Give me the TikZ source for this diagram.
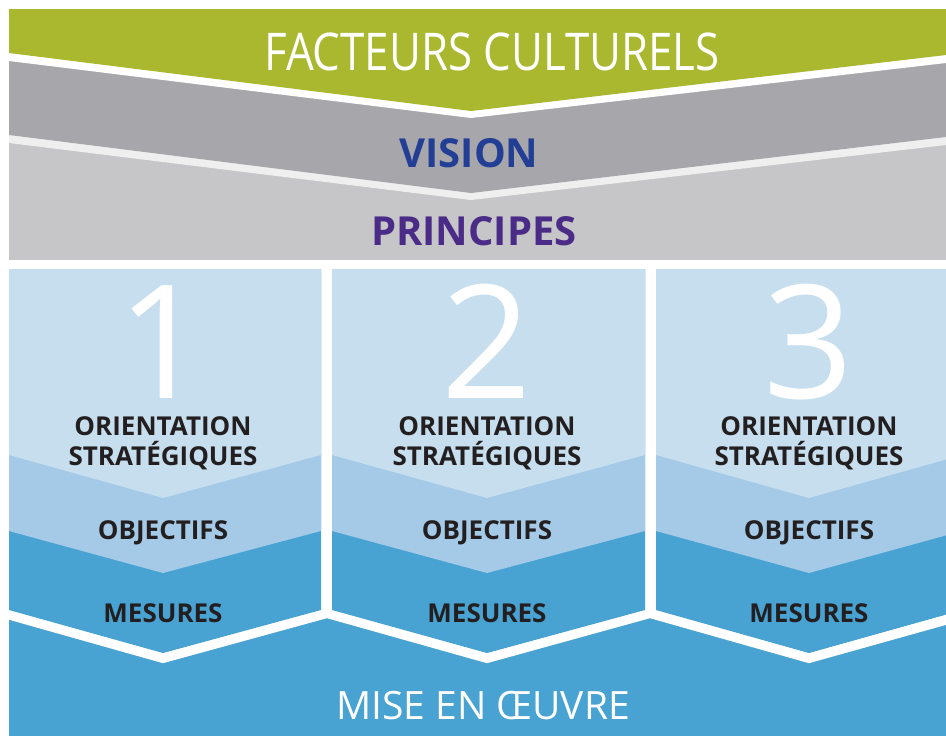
\documentclass[tikz,border=0pt]{standalone}
\usepackage{fontspec}
\setmainfont{Open Sans}
\newfontfamily\condfont[FakeStretch=0.843]{Open Sans}
\usetikzlibrary{positioning}

\definecolor{cultgreen}{HTML}{AAB830}
\definecolor{visiongray}{HTML}{A7A6AA}
\definecolor{princgray}{HTML}{C6C6C8}
\definecolor{sepgray}{HTML}{EFEFEF}
\definecolor{orientblue}{HTML}{C6DEEE}
\definecolor{objblue}{HTML}{A4CAE7}
\definecolor{mesblue}{HTML}{48A2D2}
\definecolor{visionblue}{HTML}{233F95}
\definecolor{princpurple}{HTML}{4B2B88}
\definecolor{labeltext}{HTML}{231F20}

\begin{document}
\begin{tikzpicture}[x=1pt,y=-1pt,
toptitle/.style={anchor=base,inner sep=0pt,text=white,font=\condfont\fontsize{52}{52}\selectfont},
bandtitle/.style={anchor=base,inner sep=0pt,font=\bfseries\fontsize{40}{40}\selectfont},
bignum/.style={anchor=base,inner sep=0pt,text=white,font=\fontsize{158}{158}\selectfont},
steplabel/.style={anchor=base,inner sep=0pt,text=labeltext,font=\bfseries\fontsize{26}{29.5}\selectfont},
bottomtitle/.style={anchor=base,inner sep=0pt,text=white,font=\fontsize{39}{39}\selectfont}]

\useasboundingbox (0,0) rectangle (946,736);
\clip (9,9) rectangle (946,736);

% top bands
\fill[princgray] (9,9) rectangle (946,260);
\fill[sepgray] (9,9) -- (946,9) -- (946,145) -- (471,200) -- (9,143) -- cycle;
\fill[visiongray] (9,9) -- (946,9) -- (946,137) -- (471,193) -- (9,135) -- cycle;
\fill[white] (9,9) -- (946,9) -- (946,63) -- (471,118) -- (9,61) -- cycle;
\fill[cultgreen] (9,9) -- (946,9) -- (946,55) -- (471,111) -- (9,53) -- cycle;

\draw (492,70) node[toptitle] (facteurs) {FACTEURS CULTURELS};
\draw (469,167) node[bandtitle,text=visionblue] (vision) {VISION};
\draw (474,245) node[bandtitle,text=princpurple] (principes) {PRINCIPES};

% mise en oeuvre
\fill[mesblue] (9,615) rectangle (946,736);
\draw[white,line width=10pt,line join=miter]
  (0,612) -- (163,658) -- (327,613) -- (487,658) -- (650,613) -- (809,658) -- (970,613);

% columns
\foreach \n/\l/\cx/\r in {1/9/163/321, 2/332/487/645, 3/656/809/962}
{
  \fill[mesblue] (\l,269) -- (\r,269) -- (\r,610) -- (\cx,653) -- (\l,610) -- cycle;
  \fill[objblue] (\l,269) -- (\r,269) -- (\r,531) -- (\cx,573) -- (\l,531) -- cycle;
  \fill[orientblue] (\l,269) -- (\r,269) -- (\r,455) -- (\cx,498) -- (\l,455) -- cycle;

  \draw (\cx,398) node[bignum] (num\n) {\n};
  \draw (\cx,416.5) node[steplabel,anchor=north,align=center] (orient\n) {ORIENTATION\\STRATÉGIQUES};
  \draw (\cx,539) node[steplabel] (obj\n) {OBJECTIFS};
  \draw (\cx,622) node[steplabel] (mes\n) {MESURES};
}

\draw (483,719) node[bottomtitle] (mise) {MISE EN ŒUVRE};
\end{tikzpicture}
\end{document}
